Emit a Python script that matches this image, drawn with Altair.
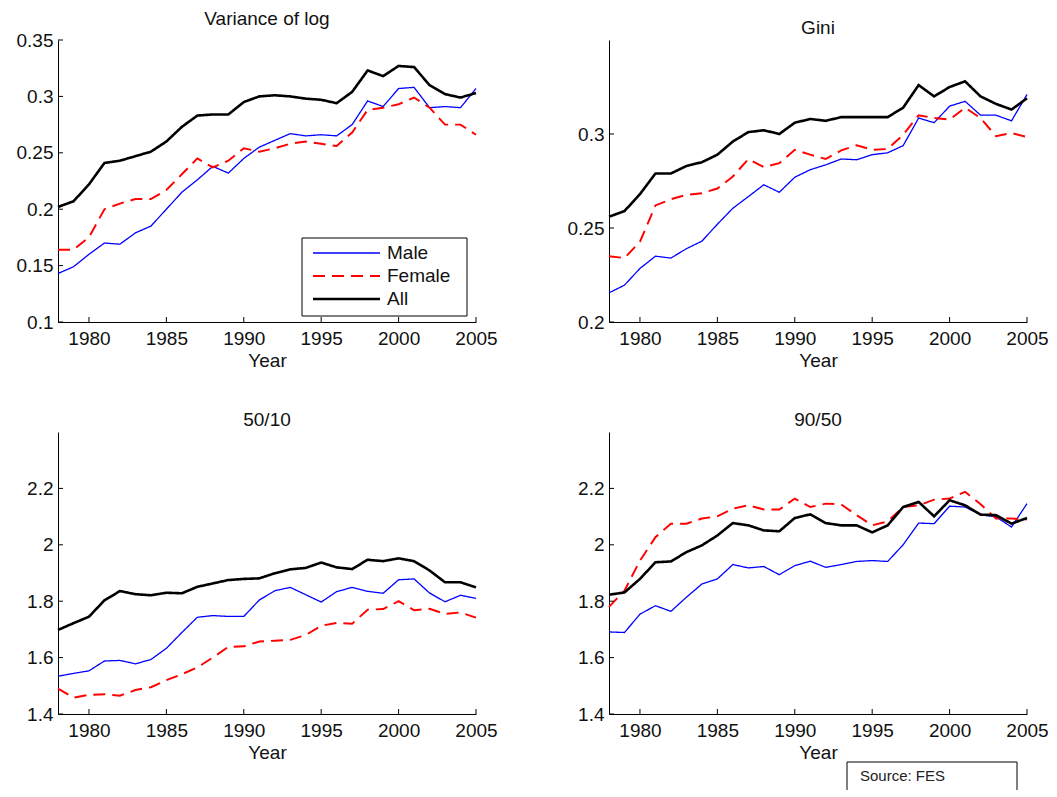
import altair as alt
import pandas as pd

YEARS = list(range(1978, 2006))
SERIES = ["Male", "Female", "All"]

# Variance of log
VAR_MALE = [0.143, 0.149, 0.160, 0.170, 0.169, 0.179, 0.185, 0.200, 0.215, 0.226,
            0.238, 0.232, 0.245, 0.255, 0.261, 0.267, 0.265, 0.266, 0.265, 0.275,
            0.296, 0.291, 0.307, 0.308, 0.290, 0.291, 0.290, 0.307]
VAR_FEMALE = [0.164, 0.164, 0.175, 0.200, 0.205, 0.209, 0.209, 0.217, 0.231, 0.245,
              0.237, 0.243, 0.254, 0.251, 0.254, 0.258, 0.260, 0.258, 0.256, 0.268,
              0.288, 0.290, 0.293, 0.299, 0.290, 0.275, 0.275, 0.266]
VAR_ALL = [0.202, 0.207, 0.222, 0.241, 0.243, 0.247, 0.251, 0.260, 0.273, 0.283,
           0.284, 0.284, 0.295, 0.300, 0.301, 0.300, 0.298, 0.297, 0.294, 0.304,
           0.323, 0.318, 0.327, 0.326, 0.310, 0.302, 0.299, 0.303]

# Gini
GINI_MALE = [0.2155, 0.2196, 0.2285, 0.235, 0.234, 0.239, 0.243, 0.252, 0.2605, 0.2667,
             0.273, 0.269, 0.277, 0.281, 0.2836, 0.2867, 0.2863, 0.289, 0.290, 0.2938,
             0.3085, 0.306, 0.3148, 0.3174, 0.310, 0.310, 0.307, 0.321]
GINI_FEMALE = [0.235, 0.234, 0.2427, 0.262, 0.2653, 0.2676, 0.2685, 0.271, 0.2774, 0.2867,
               0.2824, 0.2845, 0.2916, 0.289, 0.2867, 0.2913, 0.294, 0.2916, 0.292, 0.2996,
               0.310, 0.3085, 0.3077, 0.314, 0.3085, 0.2988, 0.3005, 0.2984]
GINI_ALL = [0.256, 0.259, 0.268, 0.279, 0.279, 0.283, 0.285, 0.289, 0.296, 0.301,
            0.302, 0.300, 0.306, 0.308, 0.307, 0.309, 0.309, 0.309, 0.309, 0.314,
            0.326, 0.320, 0.325, 0.328, 0.320, 0.316, 0.313, 0.319]

# 50/10
P5010_MALE = [1.534, 1.544, 1.553, 1.588, 1.590, 1.578, 1.593, 1.633, 1.689, 1.743,
              1.749, 1.746, 1.746, 1.804, 1.837, 1.849, 1.823, 1.797, 1.834, 1.849,
              1.835, 1.828, 1.876, 1.879, 1.829, 1.798, 1.821, 1.810]
P5010_FEMALE = [1.490, 1.458, 1.468, 1.470, 1.465, 1.485, 1.495, 1.520, 1.541, 1.565,
                1.600, 1.638, 1.640, 1.657, 1.660, 1.663, 1.680, 1.713, 1.723, 1.720,
                1.770, 1.772, 1.800, 1.768, 1.773, 1.755, 1.760, 1.742]
P5010_ALL = [1.698, 1.722, 1.745, 1.803, 1.836, 1.825, 1.821, 1.830, 1.828, 1.851,
             1.863, 1.875, 1.879, 1.881, 1.899, 1.913, 1.918, 1.937, 1.920, 1.914,
             1.947, 1.942, 1.952, 1.942, 1.909, 1.867, 1.867, 1.849]

# 90/50
P9050_MALE = [1.691, 1.689, 1.754, 1.784, 1.764, 1.814, 1.861, 1.879, 1.930, 1.918,
              1.923, 1.894, 1.926, 1.942, 1.920, 1.930, 1.941, 1.944, 1.941, 2.000,
              2.077, 2.075, 2.137, 2.134, 2.107, 2.099, 2.063, 2.146]
P9050_FEMALE = [1.780, 1.837, 1.944, 2.027, 2.075, 2.075, 2.093, 2.101, 2.128, 2.140,
                2.125, 2.125, 2.164, 2.134, 2.146, 2.143, 2.105, 2.069, 2.083, 2.134,
                2.140, 2.160, 2.164, 2.188, 2.144, 2.093, 2.093, 2.090]
P9050_ALL = [1.823, 1.831, 1.879, 1.938, 1.941, 1.974, 1.998, 2.033, 2.077, 2.069,
             2.051, 2.048, 2.095, 2.108, 2.077, 2.069, 2.069, 2.044, 2.069, 2.134,
             2.152, 2.101, 2.158, 2.140, 2.107, 2.105, 2.075, 2.095]

X_TICKS = [1980, 1985, 1990, 1995, 2000, 2005]
VAR_TICKS = [0.1, 0.15, 0.2, 0.25, 0.3, 0.35]
GINI_TICKS = [0.2, 0.25, 0.3]
RATIO_TICKS = [1.4, 1.6, 1.8, 2.0, 2.2]

FONT = "Liberation Sans"
W, H = 418, 282
COLORS = ["#0000ff", "#ff0000", "#000000"]
DASHES = [[1, 0], [12, 7], [1, 0]]
WIDTHS = [1.3, 2.6, 4.2]


def panel(title, male, female, everyone, domain, yticks, legend=False, source=False):
    df = pd.DataFrame({
        "Year": YEARS * 3,
        "value": male + female + everyone,
        "series": ["Male"] * len(YEARS) + ["Female"] * len(YEARS) + ["All"] * len(YEARS),
    })
    xs = alt.Scale(domain=[1978, 2005], nice=False, zero=False)
    ys = alt.Scale(domain=domain, nice=False, zero=False)
    color = alt.Color("series:N", scale=alt.Scale(domain=SERIES, range=COLORS), legend=None)
    dash = alt.StrokeDash("series:N", scale=alt.Scale(domain=SERIES, range=DASHES), legend=None)
    width = alt.StrokeWidth("series:N", scale=alt.Scale(domain=SERIES, range=WIDTHS), legend=None)

    lines = alt.Chart(df).mark_line().encode(
        x=alt.X("Year:Q", scale=xs, title="Year",
                axis=alt.Axis(values=X_TICKS, format="d", tickSize=0, labelPadding=7,
                              labelFlush=False, labelOverlap=False, grid=False)),
        y=alt.Y("value:Q", scale=ys, title=None,
                axis=alt.Axis(values=yticks, format="~g", tickSize=0, labelPadding=5,
                              labelFlush=False, labelOverlap=False, grid=False)),
        color=color, strokeDash=dash, strokeWidth=width,
    )
    # MATLAB-style inward tick marks
    xt = alt.Chart(pd.DataFrame({"t": X_TICKS})).mark_rule(color="black", strokeWidth=1).encode(
        x=alt.X("t:Q", scale=xs), y=alt.value(H), y2=alt.value(H - 5)
    )
    yt = alt.Chart(pd.DataFrame({"tv": yticks})).mark_rule(color="black", strokeWidth=1).encode(
        y=alt.Y("tv:Q", scale=ys), x=alt.value(0), x2=alt.value(5)
    )
    layers = [lines, xt, yt]

    if legend:
        lg = pd.DataFrame({"series": SERIES, "row": [0, 1, 2]})
        ly = alt.Y("row:Q", scale=alt.Scale(domain=[0, 2], range=[213, 259], nice=False, zero=False),
                   axis=None)
        box = alt.Chart(lg.head(1)).mark_rect(fill="white", stroke="black", strokeWidth=1).encode(
            x=alt.value(244), x2=alt.value(409), y=alt.value(198), y2=alt.value(276)
        )
        sym = alt.Chart(lg).mark_rule().encode(
            x=alt.value(255), x2=alt.value(322), y=ly,
            color=color, strokeDash=dash, strokeWidth=width,
        )
        lab = alt.Chart(lg).mark_text(align="left", baseline="middle", font=FONT, fontSize=19,
                                      color="#111111").encode(
            x=alt.value(329), y=ly, text="series:N"
        )
        legend_layer = alt.layer(box, sym, lab)
        chart = alt.layer(alt.layer(*layers), legend_layer).resolve_scale(y="independent")
    else:
        chart = alt.layer(*layers)

    if source:
        src = alt.Chart(pd.DataFrame({"label": ["Source: FES"]}))
        chart = alt.layer(
            chart,
            src.mark_rule(color="black", strokeWidth=1).encode(
                x=alt.value(238), x2=alt.value(408), y=alt.value(330)),
            src.mark_rule(color="black", strokeWidth=1).encode(
                x=alt.value(238), y=alt.value(330), y2=alt.value(358)),
            src.mark_rule(color="black", strokeWidth=1).encode(
                x=alt.value(408), y=alt.value(330), y2=alt.value(358)),
            src.mark_text(align="left", baseline="middle", font=FONT, fontSize=15,
                          color="#222222").encode(
                text="label:N", x=alt.value(251), y=alt.value(344)),
        )

    return chart.properties(
        width=W, height=H,
        title=alt.TitleParams(title, font=FONT, fontSize=19, fontWeight="normal",
                              color="#111111", offset=2),
    )


p1 = panel("Variance of log", VAR_MALE, VAR_FEMALE, VAR_ALL, [0.1, 0.35], VAR_TICKS, legend=True)
p2 = panel("Gini", GINI_MALE, GINI_FEMALE, GINI_ALL, [0.2, 0.35], GINI_TICKS)
p3 = panel("50/10", P5010_MALE, P5010_FEMALE, P5010_ALL, [1.4, 2.4], RATIO_TICKS)
p4 = panel("90/50", P9050_MALE, P9050_FEMALE, P9050_ALL, [1.4, 2.4], RATIO_TICKS, source=True)

chart = (
    alt.concat(p1, p2, p3, p4, columns=2, spacing={"row": 110, "column": 133}, bounds="flush")
    .resolve_scale(color="independent", strokeDash="independent", strokeWidth="independent")
    .properties(padding={"left": 8, "top": 2, "right": 0, "bottom": 0}, background="white")
    .configure_view(stroke=None)
    .configure_axis(
        domainColor="black", domainWidth=1,
        labelFont=FONT, labelFontSize=19, labelColor="#111111",
        titleFont=FONT, titleFontSize=19, titleFontWeight="normal", titleColor="#111111",
        titlePadding=3,
    )
)

chart.save("out.html", embed_options={"renderer": "svg", "actions": False})
